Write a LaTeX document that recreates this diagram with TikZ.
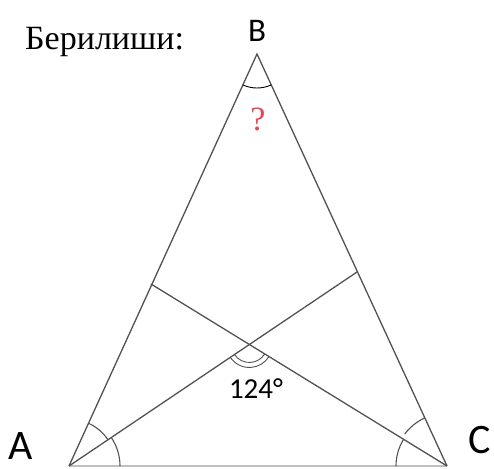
\documentclass[tikz,border=0pt]{standalone}
\usepackage{fontspec}
\setmainfont{Liberation Serif}
\newfontfamily\labfont{Carlito}
\begin{document}
\begin{tikzpicture}[x=1pt,y=1pt,
  seg/.style={draw=black!68, line width=1.3pt},
  basel/.style={draw=black!25, line width=1.2pt},
  angarc/.style={draw=black!68, line width=1.1pt},
  vlab/.style={font=\labfont, inner sep=0pt, anchor=base}]
\useasboundingbox (0,0) rectangle (494,-468);
\coordinate (A) at (69,-466);
\coordinate (B) at (257,-54);
\coordinate (C) at (447,-466);
\coordinate (D) at (357,-272);
\coordinate (E) at (151,-284);
\coordinate (P) at (intersection of A--D and C--E);
% triangle
\draw[basel] (A) -- (C);
\draw[seg] (A) -- (B) -- (C);
\draw[seg] (A) -- (D);
\draw[seg] (C) -- (E);
% angle marks at A
\draw[angarc] ([shift={(34:47)}]A) arc[start angle=34, end angle=65.5, radius=47];
\draw[angarc] ([shift={(0:51)}]A) arc[start angle=0, end angle=34, radius=51];
% angle marks at C
\draw[angarc] ([shift={(115:53)}]C) arc[start angle=115, end angle=143, radius=53];
\draw[angarc] ([shift={(149:51)}]C) arc[start angle=149, end angle=180, radius=51];
% angle at B
\draw[black, line width=0.9pt] ([shift={(245.5:34)}]B) arc[start angle=245.5, end angle=294.8, radius=34];
% 124 arcs
\draw[angarc, line width=0.9pt] ([shift={(214:18)}]P) arc[start angle=214, end angle=328, radius=18];
\draw[angarc, line width=0.9pt] ([shift={(214:23)}]P) arc[start angle=214, end angle=328, radius=23];
% labels
\node[vlab, font=\labfont\fontsize{42}{42}\selectfont] (la) at (21,-459) {A};
\node[vlab, font=\labfont\fontsize{33}{33}\selectfont] (lb) at (257,-42) {B};
\node[vlab, font=\labfont\fontsize{42}{42}\selectfont] (lc) at (480,-453) {C};
\node[vlab, font=\labfont\fontsize{29}{29}\selectfont] (ang) at (256,-398) {124°};
\node[inner sep=0pt, anchor=base, text={rgb,255:red,232;green,70;blue,80}, font=\fontsize{34}{34}\selectfont] (q) at (258,-130) {?};
\node[inner sep=0pt, anchor=base west, font=\fontsize{34}{34}\selectfont] (title) at (25,-50) {Берилиши:};
\end{tikzpicture}
\end{document}
